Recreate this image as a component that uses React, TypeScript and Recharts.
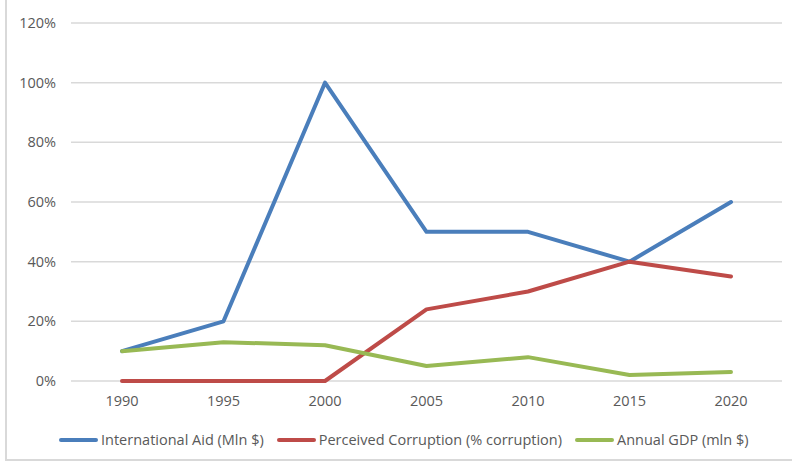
import { LineChart, Line, XAxis, YAxis, CartesianGrid } from 'recharts';

const years = ['1990', '1995', '2000', '2005', '2010', '2015', '2020'];
const aid = [10, 20, 100, 50, 50, 40, 60];
const corruption = [0, 0, 0, 24, 30, 40, 35];
const gdp = [10, 13, 12, 5, 8, 2, 3];
const yTicks = [0, 20, 40, 60, 80, 100, 120];

const series = [
  { key: 'aid', name: 'International Aid (Mln $)', color: '#4A7EBB' },
  { key: 'corruption', name: 'Perceived Corruption (% corruption)', color: '#BE4B48' },
  { key: 'gdp', name: 'Annual GDP (mln $)', color: '#98B954' },
];

const data = years.map((year, i) => ({
  year,
  aid: aid[i],
  corruption: corruption[i],
  gdp: gdp[i],
}));

const font = '"Open Sans", sans-serif';
const textColor = '#595959';
const fontSize = 14.5;

export default function App() {
  return (
    <div
      style={{
        position: 'absolute',
        left: 0,
        top: 0,
        width: 792,
        height: 464,
        background: '#fff',
        fontFamily: font,
      }}
    >
      {/* frame lines at left and bottom */}
      <div
        style={{
          position: 'absolute',
          left: 5,
          top: 0,
          width: 787,
          height: 461,
          borderLeft: '2px solid #d9d9d9',
          borderBottom: '2px solid #d9d9d9',
          boxSizing: 'border-box',
        }}
      />
      <LineChart
        width={792}
        height={464}
        data={data}
        margin={{ top: 23, right: 10, left: 11, bottom: 53 }}
        style={{ position: 'absolute', left: 0, top: 0 }}
      >
        <CartesianGrid vertical={false} stroke="#d9d9d9" strokeWidth={1.5} />
        <XAxis
          dataKey="year"
          height={30}
          axisLine={false}
          tickLine={false}
          tickMargin={9}
          padding={{ left: 51, right: 51 }}
          tick={{ fill: textColor, fontSize, fontFamily: font }}
        />
        <YAxis
          width={60}
          domain={[0, 120]}
          ticks={yTicks}
          axisLine={false}
          tickLine={false}
          tickMargin={9}
          tickFormatter={(v) => `${v}%`}
          tick={{ fill: textColor, fontSize, fontFamily: font }}
        />
        {series.map((s) => (
          <Line
            key={s.key}
            dataKey={s.key}
            name={s.name}
            stroke={s.color}
            strokeWidth={4}
            strokeLinejoin="round"
            strokeLinecap="round"
            dot={false}
            isAnimationActive={false}
          />
        ))}
      </LineChart>
      <div
        style={{
          position: 'absolute',
          left: 59,
          top: 430,
          display: 'flex',
          alignItems: 'center',
          gap: 13,
          fontSize,
          color: textColor,
          whiteSpace: 'nowrap',
        }}
      >
        {series.map((s) => (
          <div key={s.key} style={{ display: 'flex', alignItems: 'center', gap: 3 }}>
            <svg width={39} height={6}>
              <line x1={2} y1={3} x2={37} y2={3} stroke={s.color} strokeWidth={4} strokeLinecap="round" />
            </svg>
            <span>{s.name}</span>
          </div>
        ))}
      </div>
    </div>
  );
}
